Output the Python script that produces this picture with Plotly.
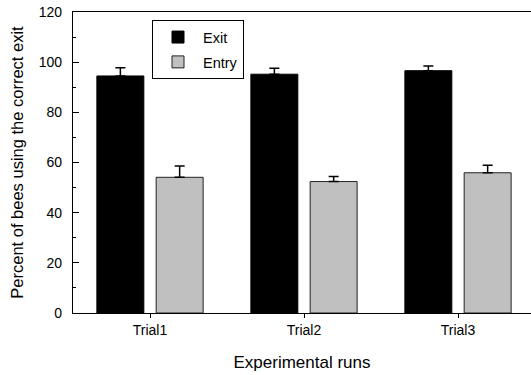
import plotly.graph_objects as go

trials = ["Trial1", "Trial2", "Trial3"]
exit_vals = [94.5, 95.2, 96.6]
exit_err = [3.3, 2.4, 1.9]
entry_vals = [54.1, 52.4, 55.9]
entry_err = [4.5, 2.0, 3.0]
y_ticks = [0, 20, 40, 60, 80, 100, 120]

FONT = "Liberation Sans, Arial, sans-serif"

fig = go.Figure()
fig.add_trace(go.Bar(
    x=trials, y=exit_vals, name="Exit", legendgroup="exit",
    width=0.305, offset=-0.345,
    marker=dict(color="black", line=dict(color="black", width=1)),
    error_y=dict(type="data", array=exit_err, arrayminus=[0] * 3, symmetric=False,
                 color="black", thickness=1.5, width=5),
))
fig.add_trace(go.Bar(
    x=trials, y=entry_vals, name="Entry", legendgroup="entry",
    width=0.305, offset=0.04,
    marker=dict(color="#c0c0c0", line=dict(color="#222222", width=1)),
    error_y=dict(type="data", array=entry_err, arrayminus=[0] * 3, symmetric=False,
                 color="black", thickness=1.5, width=5),
))

fig.update_layout(
    width=531, height=375,
    margin=dict(l=73, r=0, t=12, b=62, autoexpand=False),
    paper_bgcolor="white", plot_bgcolor="white",
    font=dict(family=FONT, color="black", size=14),
    showlegend=True,
    hovermode=False,
    legend=dict(
        x=0.1725, y=0.973, xanchor="left", yanchor="top",
        bordercolor="black", borderwidth=1, bgcolor="white",
        font=dict(size=14.5, family=FONT),
        itemwidth=40, tracegroupgap=3,
    ),
    xaxis=dict(
        type="category", range=[-0.5, 2.474], automargin=False,
        showline=True, linecolor="black", linewidth=1.2, mirror=True,
        ticks="outside", ticklen=4, tickcolor="black",
        showgrid=False, zeroline=False,
        title=dict(text="Experimental runs", font=dict(size=17), standoff=19),
    ),
    yaxis=dict(
        range=[0, 120], tickvals=y_ticks, automargin=False,
        showline=True, linecolor="black", linewidth=1.2,
        ticks="inside", ticklen=6, tickcolor="black",
        minor=dict(dtick=10, ticks="inside", ticklen=3, tickcolor="black"),
        showgrid=False, zeroline=False,
        ticklabelstandoff=7, ticklabeloverflow="allow",
        title=dict(text="Percent of bees using the correct exit", font=dict(size=16.5), standoff=10),
    ),
    yaxis2=dict(
        overlaying="y", side="right", range=[0, 120], tickvals=y_ticks, automargin=False,
        showticklabels=False, ticks="inside", ticklen=3, tickcolor="black",
        showline=False, showgrid=False, zeroline=False,
    ),
)

fig.write_html("out.html", config={"displayModeBar": False},
               post_script="document.body.style.margin='0';")
